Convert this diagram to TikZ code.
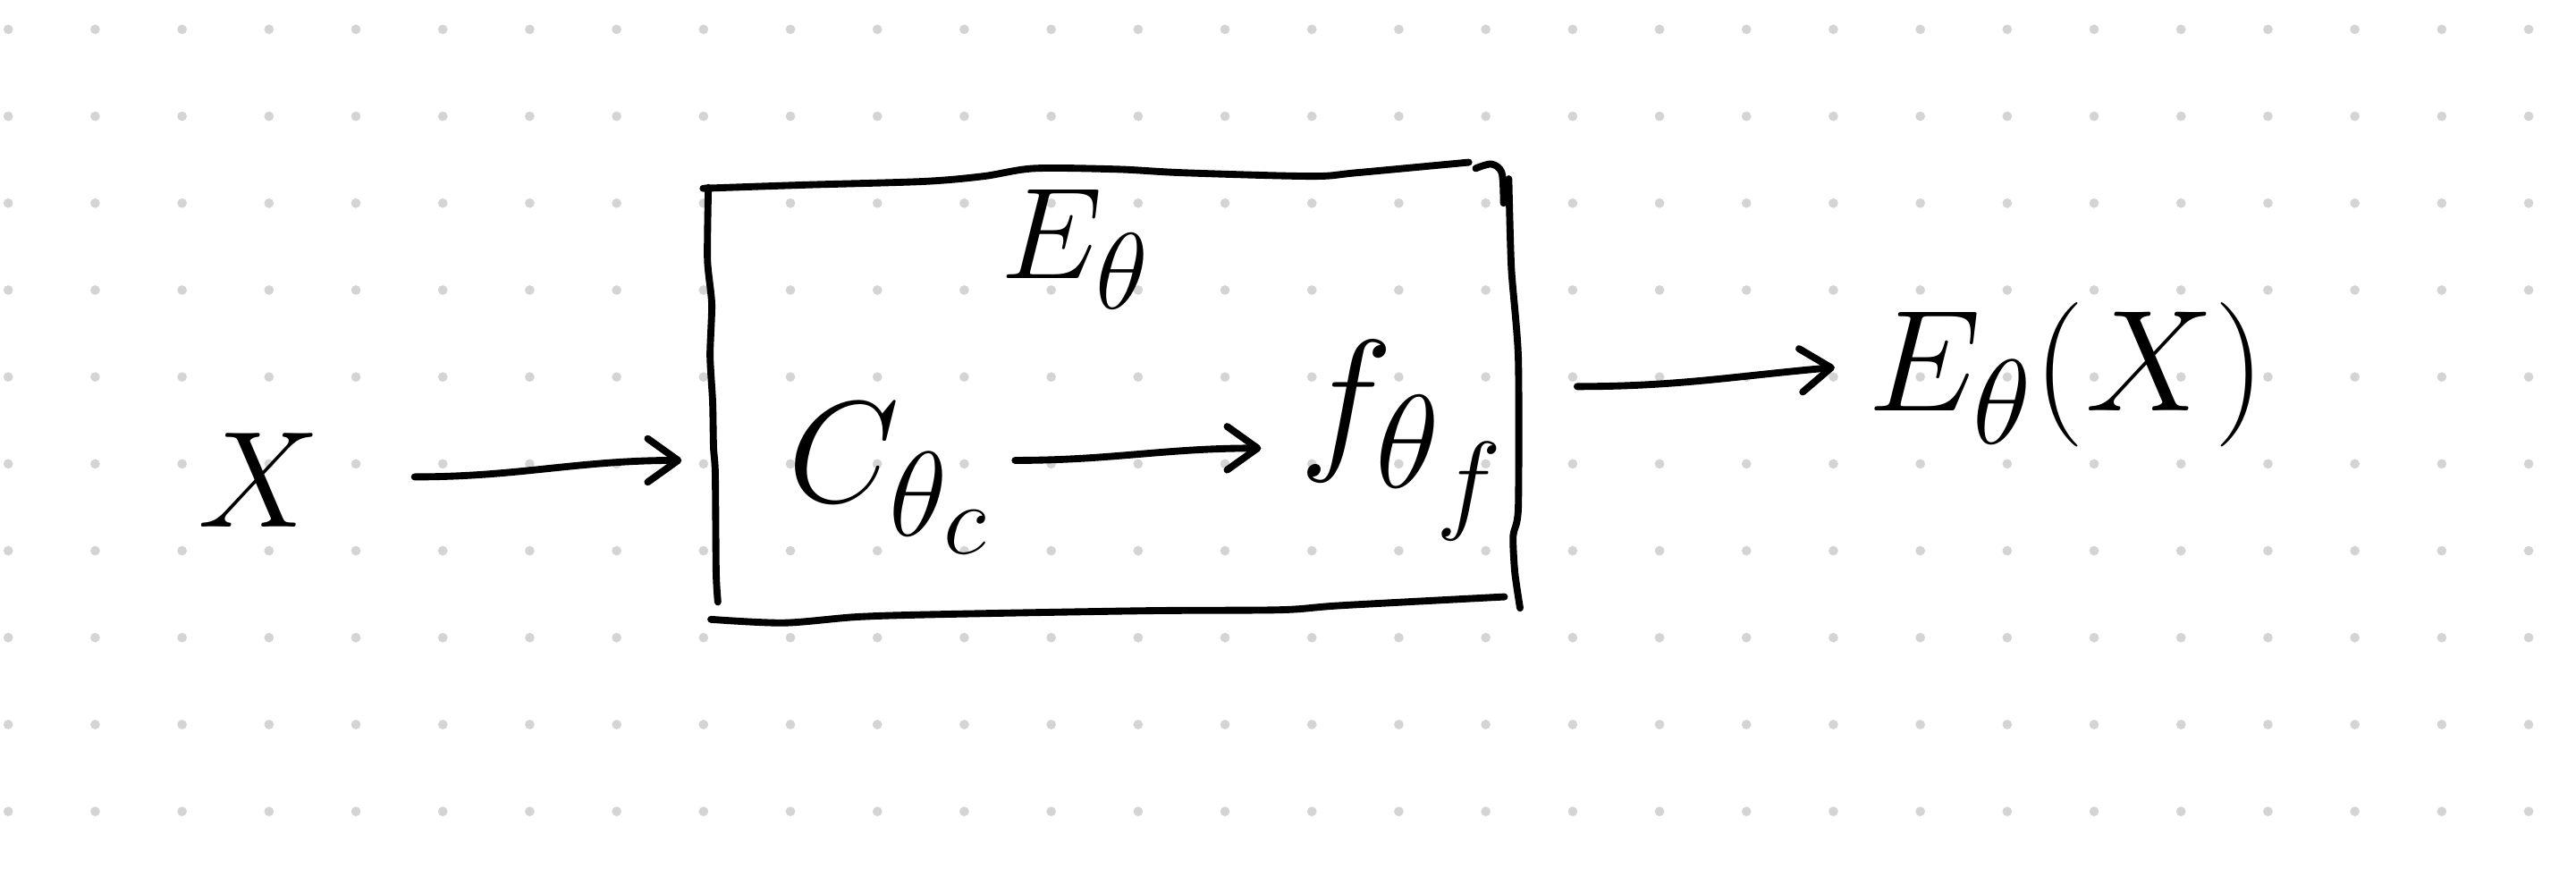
\documentclass[tikz,border=0pt]{standalone}
\usetikzlibrary{arrows.meta}

\definecolor{dotgray}{RGB}{212,212,212}

\tikzset{
  pen/.style={line width=2.3pt, line cap=round, line join=round},
  flow/.style={pen, -{Straight Barb[length=3.5mm,width=5mm,round]}},
  lbl/.style={font=\Huge, inner sep=0pt, scale=1.9},
  encbox/.style={rectangle, minimum width=9.26cm, minimum height=4.99cm}
}

\begin{document}
\begin{tikzpicture}

  \fill[white] (0,0) rectangle (29.64,10.288);
  \useasboundingbox (0,0) rectangle (29.64,10.288);

  % dot grid
  \foreach \i in {0,...,29}
    \foreach \j in {0,...,9}
      \fill[dotgray] (0.095+\i,0.95+\j) circle (0.055);

  % nodes
\node[lbl, scale=0.95] (xin) at (2.98,4.76) {$X$};
\node[encbox] (enc) at (12.78,5.74) {};
\node[lbl, scale=0.9] (elab) at (12.38,7.42) {$E_\theta$};
\node[lbl] (cnet) at (10.24,4.78) {$C_{\theta_c}$};
\node[lbl, scale=1.1] (fnet) at (16.15,5.22) {$f_{\theta_f}$};
\node[lbl] (yout) at (23.78,5.98) {$E_\theta(X)$};

  % box, drawn by hand
  \draw[pen] plot[smooth, tension=0.5] coordinates {(8.09,8.12) (9.26,8.16) (10.63,8.20) (11.32,8.26) (11.90,8.35) (12.86,8.34) (13.61,8.30) (15.09,8.26) (15.61,8.30) (16.90,8.42)};
  \draw[pen] plot[smooth] coordinates {(16.98,8.35) (17.16,8.40) (17.28,8.30) (17.30,7.95)};
  \draw[pen] plot[smooth, tension=0.4] coordinates {(17.36,8.23) (17.39,7.20) (17.47,6.17) (17.47,4.45) (17.41,4.12) (17.43,3.70) (17.49,3.29)};
  \draw[pen] plot[smooth, tension=0.4] coordinates {(8.15,8.13) (8.14,7.30) (8.19,6.79) (8.17,6.20) (8.20,5.66) (8.21,5.14) (8.23,4.84) (8.24,3.70) (8.26,3.36)};
  \draw[pen] plot[smooth, tension=0.5] coordinates {(8.18,3.16) (9.02,3.12) (9.88,3.19) (10.91,3.22) (13.23,3.26) (14.74,3.27) (15.43,3.32) (17.31,3.42)};

  % arrows
\coordinate (a1s) at (4.77,4.80);
\coordinate (a2s) at (11.68,4.99);
\coordinate (a2e) at (14.51,5.13);
\coordinate (a3e) at (21.11,6.06);
\draw[flow] (a1s) to[out=0,in=180] ([shift={(-0.3,-0.75)}]enc.west);
\draw[flow] (a2s) to[out=0,in=180] (a2e);
\draw[flow] ([shift={(0.73,0.10)}]enc.east) to[out=0,in=185] (a3e);

\end{tikzpicture}
\end{document}
